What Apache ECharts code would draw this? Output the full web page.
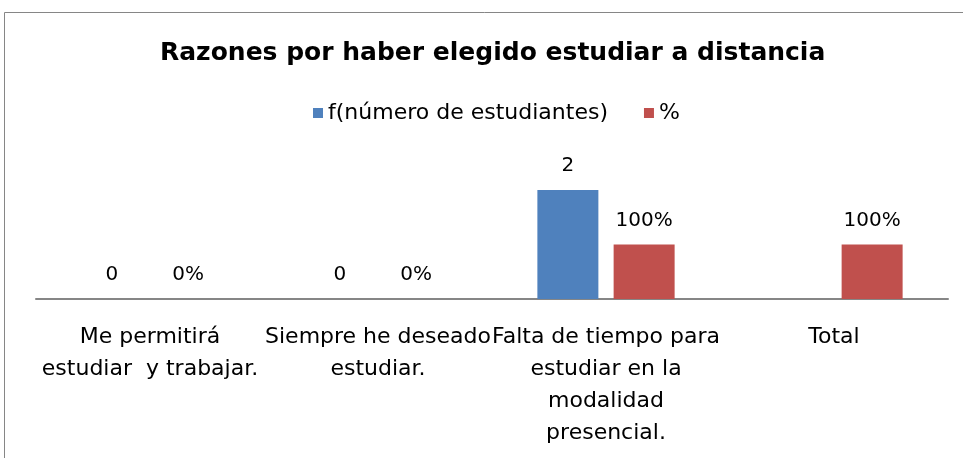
<!DOCTYPE html>
<html>
<head>
<meta charset="utf-8">
<script src="https://cdn.jsdelivr.net/npm/echarts@6/dist/echarts.min.js"></script>
<style>
  html, body { margin: 0; padding: 0; background: #fff; }
  #chart { width: 963px; height: 458px; }
</style>
</head>
<body>
<div id="chart"></div>
<script>
// datos del gráfico
var categorias = [
  'Me permitirá\nestudiar  y trabajar.',
  'Siempre he deseado\nestudiar.',
  'Falta de tiempo para\nestudiar en la\nmodalidad\npresencial.',
  'Total'
];
var frecuencia = [0, 0, 2, null];
var porcentaje = [0, 0, 1, 1];
var nombresSeries = ['f(número de estudiantes)', '%'];

var fuente = 'DejaVu Sans';
var myChart = echarts.init(document.getElementById('chart'));

myChart.setOption({
  animation: false,
  title: {
    text: 'Razones por haber elegido estudiar a distancia',
    left: 155,
    top: 36,
    textStyle: { fontFamily: 'DejaVu Sans', fontWeight: 'bold', fontSize: 25, color: '#000' }
  },
  legend: {
    data: nombresSeries,
    left: 308,
    top: 97,
    icon: 'rect',
    itemWidth: 10,
    itemHeight: 10,
    itemGap: 36,
    itemStyle: { borderWidth: 0 },
    textStyle: { fontFamily: fuente, fontSize: 22, color: '#000' }
  },
  graphic: [{
    type: 'rect',
    shape: { x: 4.5, y: 12.5, width: 1000, height: 500 },
    style: { fill: 'none', stroke: '#868686', lineWidth: 1 },
    silent: true
  }],
  grid: { left: 36, right: 15, top: 190, bottom: 159 },
  xAxis: {
    type: 'category',
    data: categorias,
    axisLine: { lineStyle: { color: '#868686', width: 2 } },
    axisTick: { show: false },
    axisLabel: {
      interval: 0,
      margin: 22,
      color: '#000',
      fontFamily: fuente,
      fontSize: 22,
      lineHeight: 32
    }
  },
  yAxis: {
    type: 'value',
    min: 0,
    max: 2,
    show: false,
    splitLine: { show: false }
  },
  series: [
    {
      name: nombresSeries[0],
      type: 'bar',
      data: frecuencia,
      barWidth: 61,
      barGap: '25%',
      itemStyle: { color: '#4F81BD' },
      label: {
        show: true,
        position: 'top',
        distance: 14,
        color: '#000',
        fontFamily: fuente,
        fontSize: 20
      }
    },
    {
      name: nombresSeries[1],
      type: 'bar',
      data: porcentaje,
      barWidth: 61,
      itemStyle: { color: '#C0504D' },
      label: {
        show: true,
        position: 'top',
        distance: 14,
        color: '#000',
        fontFamily: fuente,
        fontSize: 20,
        formatter: function (p) { return Math.round(p.value * 100) + '%'; }
      }
    }
  ]
});
</script>
</body>
</html>
